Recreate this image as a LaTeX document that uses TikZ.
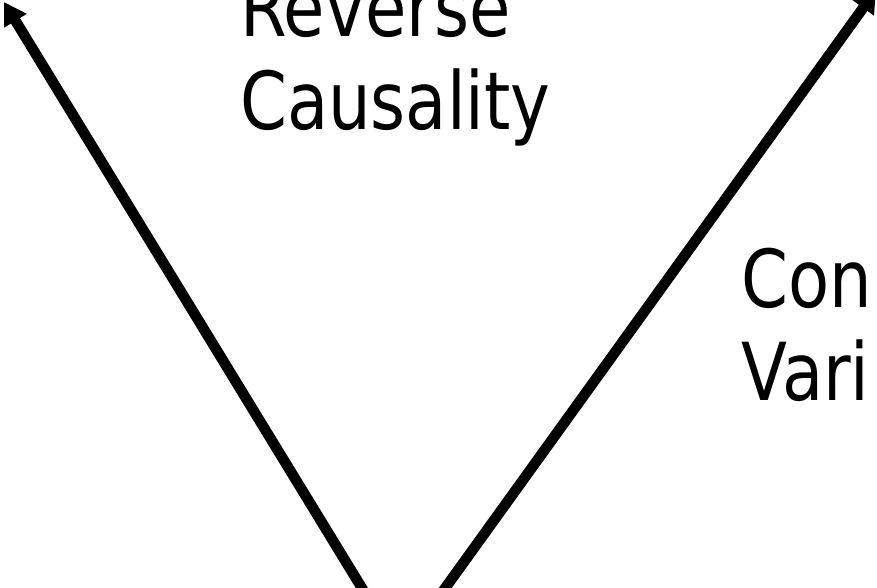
\documentclass[tikz,border=0pt]{standalone}
\usepackage{fontspec}
\setmainfont{DejaVu Sans}[FakeStretch=0.84]
\usetikzlibrary{arrows.meta,positioning}

\begin{document}
\begin{tikzpicture}[x=1pt,y=-1pt,>={Triangle[length=22pt,width=25pt]},
  label text/.style={inner sep=0pt,align=left,anchor=base west,
    font=\fontsize{80}{93}\selectfont}]
  \useasboundingbox (0,0) rectangle (877,587);
  \clip (0,0) rectangle (877,587);
  \coordinate (cause) at (368,598);
  \coordinate (effect) at (438,598);
  \coordinate (rctip) at (4,2);
  \coordinate (cvtip) at (876,-10);
  \draw[->,line width=10.5pt] (cause) -- (rctip);
  \draw[->,line width=10.5pt] (effect) -- (cvtip);
  \node[label text] (reverse) at (240,129) {Reverse\\Causality};
  \node[label text] (confound) at (741,400) {Con\\Vari};
\end{tikzpicture}
\end{document}
